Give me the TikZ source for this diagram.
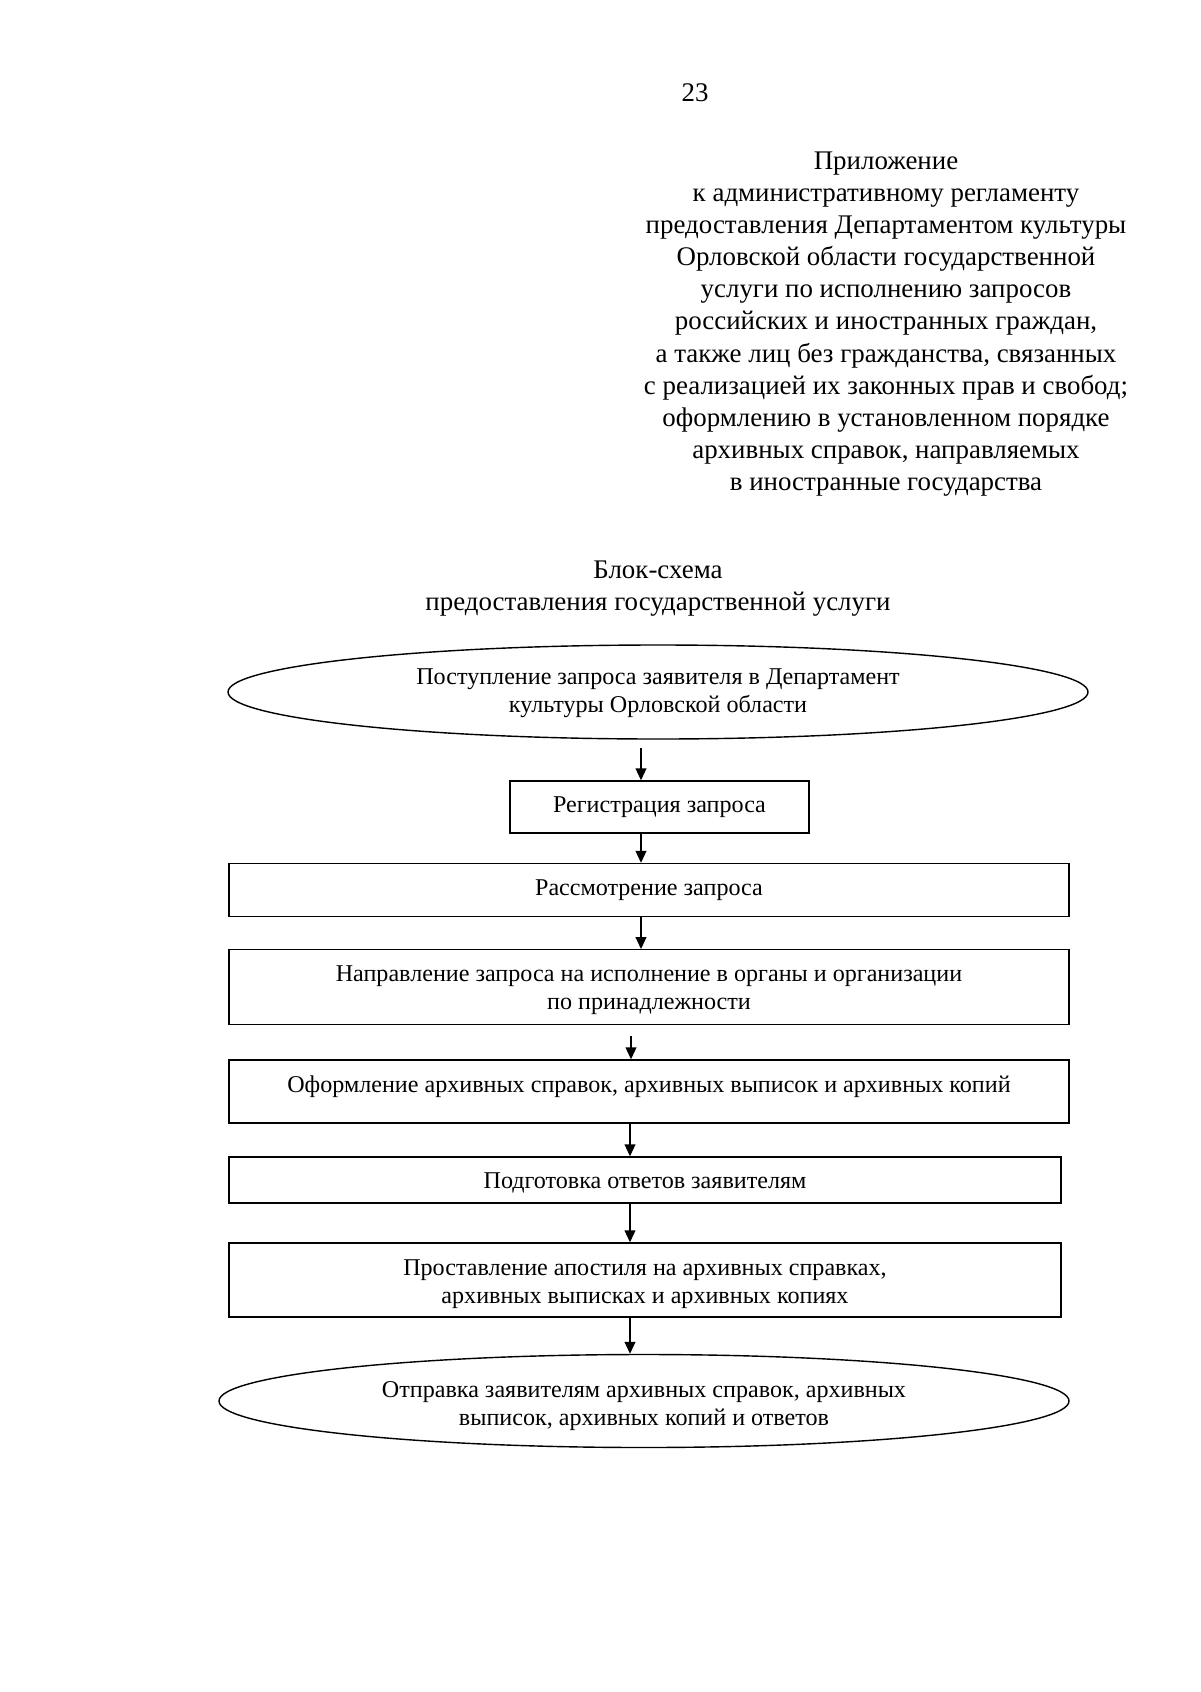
\documentclass[tikz,border=0pt]{standalone}
\usepackage{fontspec}
\setmainfont{Liberation Serif}
\usetikzlibrary{shapes.geometric,arrows.meta}
\newdimen\pxu \pxu=0.175mm
\begin{document}
\begin{tikzpicture}[x=0.175mm,y=-0.175mm,
  hdr/.style={inner sep=0pt,align=center,font=\fontsize{13.4pt}{16pt}\selectfont},
  boxtxt/.style={inner sep=0pt,align=center,font=\fontsize{12pt}{13.9pt}\selectfont},
  stepbox/.style={boxtxt,draw,line width=0.7pt,rectangle},
  ovalbox/.style={boxtxt,draw,line width=0.7pt,ellipse},
  arr/.style={line width=0.7pt,-{Triangle[length=2.1mm,width=1.9mm]}}]
\fill[white] (0,0) rectangle (1200,1692);
\useasboundingbox (0,0) rectangle (1200,1692);

\node[hdr] (num) at (695,93) {23};
\node[hdr] (app) at (886,324) {Приложение\\к административному регламенту\\предоставления Департаментом культуры\\Орловской области государственной\\услуги по исполнению запросов\\российских и иностранных граждан,\\а также лиц без гражданства, связанных\\с реализацией их законных прав и свобод;\\оформлению в установленном порядке\\архивных справок, направляемых\\в иностранные государства};
\node[hdr] (title) at (658,589) {Блок-схема\\предоставления государственной услуги};

\node[ovalbox,minimum width=860*\pxu,minimum height=94*\pxu,text height=22.6pt,text depth=2.3pt] (e1) at (658,692) {Поступление запроса заявителя в Департамент\\культуры Орловской области};
\node[stepbox,minimum width=299*\pxu,minimum height=52*\pxu] (reg) at (659.5,807) {Регистрация запроса};
\node[stepbox,minimum width=840*\pxu,minimum height=53*\pxu] (ras) at (649,890) {Рассмотрение запроса};
\node[stepbox,minimum width=840*\pxu,minimum height=74.5*\pxu,text height=23.5pt,text depth=1.4pt] (nap) at (649,987) {Направление запроса на исполнение в органы и организации\\по принадлежности};
\node[stepbox,minimum width=840*\pxu,minimum height=63*\pxu,text height=9pt,text depth=7.6pt] (ofo) at (649,1091.5) {Оформление архивных справок, архивных выписок и архивных копий};
\node[stepbox,minimum width=832*\pxu,minimum height=46*\pxu,text height=9.6pt,text depth=1.4pt] (pod) at (645,1180) {Подготовка ответов заявителям};
\node[stepbox,minimum width=832*\pxu,minimum height=74*\pxu,text height=24.3pt,text depth=0.6pt] (pro) at (645,1280) {Проставление апостиля на архивных справках,\\архивных выписках и архивных копиях};
\node[ovalbox,minimum width=850*\pxu,minimum height=93*\pxu,text height=24.4pt,text depth=0.5pt] (fin) at (644,1401) {Отправка заявителям архивных справок, архивных\\выписок, архивных копий и ответов};

\coordinate (c1) at (641,0);
\coordinate (c2) at (641,0);
\coordinate (c3) at (631,0);
\coordinate (c4) at (630,0);
\coordinate (c5) at (630,0);
\draw[arr,shorten <=1.5mm] (e1.south -| c1) -- (reg.north -| c1);
\draw[arr] (reg.south -| c2) -- (ras.north -| c2);
\draw[arr] (ras.south -| c2) -- (nap.north -| c2);
\draw[arr,shorten <=2mm] (nap.south -| c3) -- (ofo.north -| c3);
\draw[arr] (ofo.south -| c4) -- (pod.north -| c4);
\draw[arr] (pod.south -| c4) -- (pro.north -| c4);
\draw[arr] (pro.south -| c5) -- (fin.north -| c5);
\end{tikzpicture}
\end{document}
